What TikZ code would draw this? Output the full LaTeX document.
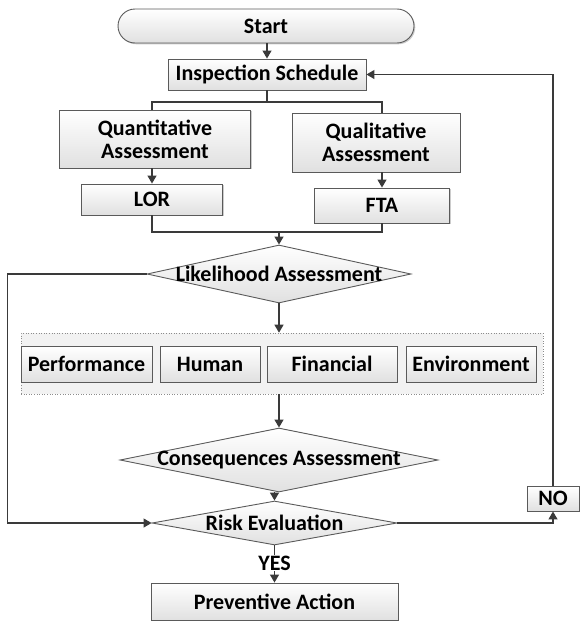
\documentclass[tikz,border=0pt]{standalone}
\usepackage{fontspec}
\setmainfont{Carlito}
\usetikzlibrary{shapes.geometric,shadows,arrows.meta}
\definecolor{ln}{HTML}{3A3A3A}
\definecolor{bd}{HTML}{5A5A5A}
\tikzset{
  txt/.style={font=\bfseries\fontsize{22}{23}\selectfont, text=black, align=center},
  sz/.style 2 args={minimum width=#1, minimum height=#2},
  box/.style={txt, draw=bd, line width=0.9pt, top color=white, bottom color=black!12,
    inner sep=0pt, drop shadow={shadow xshift=1.3pt, shadow yshift=-1.3pt, fill=black!40, opacity=0.5}},
  dia/.style={shape=diamond, draw=bd, line width=0.9pt, top color=white, bottom color=black!12, inner sep=0pt},
  cont/.style={draw=black!45, dotted, line width=0.6pt, fill=black!5, inner sep=0pt},
  conn/.style={draw=ln, line width=1.2pt},
  arr/.style={conn, -{Triangle[width=9pt,length=8pt]}},
}
\begin{document}
\begin{tikzpicture}[x=1pt,y=-1pt]
\useasboundingbox (0,0) rectangle (579,624);
% nodes
\node[box, sz={296}{34}, rounded corners=17pt] (start) at (266,26) {Start};
\node[box, sz={198}{31}] (insp) at (267,74.5) {Inspection Schedule};
\node[box, sz={191}{58}] (quant) at (155,139) {Quantitative\\Assessment};
\node[box, sz={168}{59}] (qual) at (376,142.5) {Qualitative\\Assessment};
\node[box, sz={141}{31}] (lor) at (152,199.5) {LOR};
\node[box, sz={135}{35}] (fta) at (382,205.5) {FTA};
\node[dia, sz={264}{58}, label={[txt]center:Likelihood Assessment}] (lik) at (279,274) {};
\node[cont, sz={522}{61}] (grp) at (282,363.5) {};
\node[box, sz={131}{36}] (perf) at (86.5,364) {Performance};
\node[box, sz={100}{36}] (hum) at (210,364) {Human};
\node[box, sz={130}{36}] (fin) at (332,364) {Financial};
\node[box, sz={130}{36}] (env) at (471,364) {Environment};
\node[dia, sz={318}{64}, label={[txt]center:Consequences Assessment}] (cons) at (279,460) {};
\node[dia, sz={245}{44}, label={[txt]center:Risk Evaluation}] (risk) at (274.5,523) {};
\node[box, sz={52}{25}] (no) at (553,498.5) {NO};
\node[txt, inner sep=1pt] (yes) at (274.5,563) {YES};
\node[box, sz={247}{37}] (prev) at (274.5,601.5) {Preventive Action};
\coordinate (j) at (279,232);
\coordinate (b) at (267,102);
% connectors
\draw[arr] (start.south -| insp.north) -- (insp.north);
\draw[conn] (insp.south) -- (b);
\draw[conn] (b) -| (quant.north -| lor.north);
\draw[conn] (b) -| (qual.north -| fta.north);
\draw[arr] (quant.south -| lor.north) -- (lor.north);
\draw[arr] (qual.south -| fta.north) -- (fta.north);
\draw[conn] (lor.south) |- (j);
\draw[conn] (fta.south) |- (j);
\draw[arr] (j) -- (lik.north);
\draw[arr] (lik.south) -- (lik.south |- grp.north);
\draw[arr] (grp.south -| cons.north) -- (cons.north);
\draw[arr] (cons.south -| risk.north) -- (risk.north);
\draw[arr] (lik.west) -- ++(-139,0) |- (risk.west);
\draw[arr] (risk.east) -| (no.south);
\draw[arr] (no.north) |- (insp.east);
\draw[conn] (risk.south) -- (yes.north);
\draw[arr] (yes.south) -- (prev.north);
\end{tikzpicture}
\end{document}
